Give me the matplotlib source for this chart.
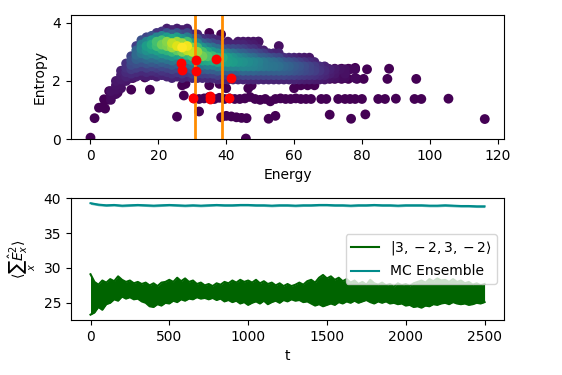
import matplotlib
matplotlib.use("Agg")
import matplotlib.pyplot as plt
import numpy as np

# --- данные ---

# плотная полоса: (энергия, [энтропии], [плотность 0..1])
band_columns = [
    (6.0, [1.35, 1.5, 1.65], [0.02, 0.03, 0.04]),
    (7.5, [1.55, 1.7, 1.85, 2.0], [0.03, 0.04, 0.05, 0.06]),
    (9.0, [1.75, 1.9, 2.05, 2.2, 2.35], [0.04, 0.05, 0.07, 0.08, 0.09]),
    (10.5, [2.0, 2.15, 2.3, 2.45, 2.6], [0.06, 0.09, 0.12, 0.14, 0.14]),
    (12.0, [2.1, 2.25, 2.4, 2.55, 2.7, 2.85], [0.07, 0.12, 0.17, 0.22, 0.24, 0.2]),
    (13.5, [2.15, 2.3, 2.45, 2.6, 2.75, 2.9, 3.05, 3.2],
     [0.08, 0.12, 0.18, 0.24, 0.3, 0.34, 0.32, 0.18]),
    (15.0, [2.2, 2.35, 2.5, 2.65, 2.8, 2.95, 3.1, 3.25, 3.4],
     [0.08, 0.12, 0.18, 0.25, 0.32, 0.4, 0.45, 0.42, 0.25]),
    (16.5, [2.15, 2.3, 2.45, 2.6, 2.75, 2.9, 3.05, 3.2, 3.35, 3.5],
     [0.08, 0.12, 0.18, 0.25, 0.33, 0.42, 0.5, 0.55, 0.45, 0.2]),
    (18.0, [2.2, 2.35, 2.5, 2.65, 2.8, 2.95, 3.1, 3.25, 3.4, 3.55],
     [0.08, 0.13, 0.2, 0.28, 0.36, 0.46, 0.56, 0.62, 0.52, 0.25]),
    (19.5, [2.15, 2.3, 2.45, 2.6, 2.75, 2.9, 3.05, 3.2, 3.35, 3.5, 3.65],
     [0.08, 0.12, 0.18, 0.26, 0.35, 0.45, 0.56, 0.68, 0.7, 0.45, 0.15]),
    (21.0, [2.2, 2.35, 2.5, 2.65, 2.8, 2.95, 3.1, 3.25, 3.4, 3.55, 3.7],
     [0.1, 0.15, 0.22, 0.3, 0.4, 0.52, 0.65, 0.78, 0.7, 0.45, 0.15]),
    (22.5, [2.15, 2.3, 2.45, 2.6, 2.75, 2.9, 3.05, 3.2, 3.35, 3.5, 3.65, 3.8],
     [0.1, 0.14, 0.2, 0.28, 0.38, 0.5, 0.64, 0.8, 0.82, 0.55, 0.25, 0.08]),
    (24.0, [2.1, 2.25, 2.4, 2.55, 2.7, 2.85, 3.0, 3.15, 3.3, 3.45, 3.6, 3.75],
     [0.1, 0.14, 0.2, 0.28, 0.38, 0.5, 0.66, 0.85, 0.9, 0.6, 0.3, 0.1]),
    (25.5, [2.15, 2.3, 2.45, 2.6, 2.75, 2.9, 3.05, 3.2, 3.35, 3.5, 3.65, 3.8],
     [0.1, 0.15, 0.22, 0.3, 0.42, 0.55, 0.75, 0.95, 0.85, 0.55, 0.25, 0.08]),
    (27.0, [2.1, 2.25, 2.4, 2.55, 2.7, 2.85, 3.0, 3.15, 3.3, 3.45, 3.6, 3.75],
     [0.1, 0.15, 0.22, 0.3, 0.42, 0.58, 0.8, 1.0, 0.85, 0.5, 0.22, 0.08]),
    (28.5, [2.15, 2.3, 2.45, 2.6, 2.75, 2.9, 3.05, 3.2, 3.35, 3.5, 3.65, 3.8],
     [0.1, 0.16, 0.24, 0.34, 0.48, 0.66, 0.9, 0.98, 0.7, 0.42, 0.2, 0.08]),
    (30.0, [2.1, 2.25, 2.4, 2.55, 2.7, 2.85, 3.0, 3.15, 3.3, 3.45, 3.6],
     [0.12, 0.18, 0.26, 0.36, 0.5, 0.7, 0.92, 0.8, 0.55, 0.3, 0.12]),
    (31.5, [2.1, 2.25, 2.4, 2.55, 2.7, 2.85, 3.0, 3.15, 3.3, 3.45, 3.6],
     [0.12, 0.18, 0.27, 0.38, 0.54, 0.74, 0.85, 0.68, 0.45, 0.25, 0.1]),
    (33.0, [2.1, 2.25, 2.4, 2.55, 2.7, 2.85, 3.0, 3.15, 3.3, 3.45],
     [0.12, 0.18, 0.28, 0.4, 0.58, 0.78, 0.7, 0.5, 0.3, 0.14]),
    (34.5, [2.1, 2.25, 2.4, 2.55, 2.7, 2.85, 3.0, 3.15, 3.3, 3.45],
     [0.12, 0.19, 0.3, 0.43, 0.6, 0.72, 0.6, 0.42, 0.25, 0.12]),
    (36.0, [2.1, 2.25, 2.4, 2.55, 2.7, 2.85, 3.0, 3.15, 3.3, 3.45],
     [0.12, 0.2, 0.3, 0.45, 0.62, 0.68, 0.52, 0.36, 0.2, 0.1]),
    (37.5, [2.05, 2.2, 2.35, 2.5, 2.65, 2.8, 2.95, 3.1, 3.25, 3.4],
     [0.1, 0.18, 0.28, 0.42, 0.58, 0.65, 0.52, 0.36, 0.2, 0.1]),
    (39.0, [2.05, 2.2, 2.35, 2.5, 2.65, 2.8, 2.95, 3.1, 3.25],
     [0.1, 0.18, 0.3, 0.44, 0.58, 0.62, 0.45, 0.26, 0.1]),
    (40.5, [2.05, 2.2, 2.35, 2.5, 2.65, 2.8, 2.95, 3.1, 3.25, 3.35],
     [0.1, 0.18, 0.3, 0.44, 0.56, 0.55, 0.4, 0.22, 0.1, 0.06]),
    (42.0, [2.05, 2.2, 2.35, 2.5, 2.65, 2.8, 2.95, 3.1, 3.25],
     [0.1, 0.18, 0.3, 0.45, 0.55, 0.5, 0.36, 0.22, 0.1]),
    (43.5, [2.05, 2.2, 2.35, 2.5, 2.65, 2.8, 2.95, 3.1, 3.25, 3.35],
     [0.1, 0.18, 0.3, 0.44, 0.52, 0.46, 0.32, 0.2, 0.1, 0.06]),
    (45.0, [2.05, 2.2, 2.35, 2.5, 2.65, 2.8, 2.95, 3.1, 3.25, 3.35],
     [0.1, 0.2, 0.33, 0.46, 0.5, 0.42, 0.3, 0.18, 0.1, 0.06]),
    (46.5, [2.05, 2.2, 2.35, 2.5, 2.65, 2.8, 2.95, 3.1, 3.25, 3.35],
     [0.1, 0.2, 0.32, 0.45, 0.48, 0.38, 0.26, 0.15, 0.08, 0.05]),
    (48.0, [2.05, 2.2, 2.35, 2.5, 2.65, 2.8, 2.95, 3.1, 3.25, 3.35],
     [0.1, 0.2, 0.32, 0.44, 0.46, 0.35, 0.24, 0.14, 0.07, 0.05]),
    (49.5, [2.05, 2.2, 2.35, 2.5, 2.65, 2.8, 2.95, 3.1, 3.35],
     [0.1, 0.2, 0.3, 0.42, 0.43, 0.3, 0.2, 0.1, 0.05]),
    (51.0, [2.05, 2.2, 2.35, 2.5, 2.65, 2.8, 2.95, 3.05],
     [0.1, 0.2, 0.3, 0.4, 0.4, 0.28, 0.17, 0.08]),
    (52.5, [2.05, 2.2, 2.35, 2.5, 2.65, 2.8, 2.95],
     [0.1, 0.2, 0.3, 0.39, 0.37, 0.25, 0.12]),
    (54.0, [2.05, 2.2, 2.35, 2.5, 2.65, 2.8, 2.95],
     [0.1, 0.2, 0.3, 0.38, 0.35, 0.22, 0.1]),
    (55.5, [2.05, 2.2, 2.35, 2.5, 2.65, 2.8, 2.95, 3.2],
     [0.1, 0.2, 0.3, 0.36, 0.32, 0.2, 0.1, 0.04]),
    (57.0, [2.05, 2.2, 2.35, 2.5, 2.65, 2.8], [0.1, 0.2, 0.29, 0.33, 0.27, 0.14]),
    (58.5, [2.05, 2.2, 2.35, 2.5, 2.65, 2.8], [0.1, 0.19, 0.28, 0.31, 0.25, 0.12]),
    (60.0, [2.05, 2.2, 2.35, 2.5, 2.65, 2.8], [0.1, 0.18, 0.26, 0.28, 0.22, 0.1]),
    (61.5, [2.05, 2.2, 2.35, 2.5, 2.65, 2.8], [0.09, 0.17, 0.24, 0.26, 0.18, 0.08]),
    (63.0, [2.05, 2.2, 2.35, 2.5, 2.65, 2.8], [0.08, 0.16, 0.22, 0.23, 0.15, 0.07]),
    (64.5, [2.05, 2.2, 2.35, 2.5, 2.65, 2.8], [0.08, 0.15, 0.2, 0.2, 0.12, 0.06]),
    (66.0, [2.05, 2.2, 2.35, 2.5, 2.65], [0.07, 0.14, 0.18, 0.17, 0.1]),
    (67.5, [2.05, 2.2, 2.35, 2.5], [0.07, 0.12, 0.15, 0.13]),
    (69.0, [2.05, 2.2, 2.35, 2.5], [0.06, 0.1, 0.12, 0.1]),
    (70.5, [2.1, 2.25, 2.4], [0.05, 0.08, 0.09]),
    (72.0, [2.1, 2.25, 2.4], [0.04, 0.06, 0.07]),
    (73.5, [2.1, 2.4], [0.03, 0.05]),
    (75.0, [2.1, 2.25, 2.4], [0.03, 0.04, 0.04]),
    (76.5, [2.4], [0.02]),
    (78.0, [2.1, 2.4], [0.02, 0.02]),
]

# отдельные точки вне полосы (самая низкая плотность)
outlier_energy = [0.0, 1.2, 2.5, 3.5, 4.3, 4.0, 5.0, 5.5, 7.0, 8.0,
                  12.0, 17.5, 12.5, 16.0, 27.0, 27.5, 28.0, 32.0, 25.5, 35.0,
                  38.0, 40.0, 46.5, 47.5, 60.0, 62.0, 64.0, 66.0,
                  30.5, 32.0, 33.5, 35.0, 36.5, 38.0, 39.5, 41.0, 42.5, 44.0,
                  45.5, 47.0, 48.5, 50.0, 51.5, 53.0, 54.5, 56.0, 57.5, 59.0,
                  60.5, 62.0, 63.5, 65.0, 68.0, 69.5, 73.0, 75.0, 76.5, 78.0,
                  80.0, 84.8, 86.8, 90.0, 95.5, 97.5, 105.5,
                  38.5, 40.0, 41.5, 43.0, 44.5, 46.0, 52.5, 54.5, 70.5, 76.8,
                  81.0, 116.2, 45.8,
                  70.5, 72.0, 74.0, 76.0, 78.5, 80.5, 87.5, 96.0,
                  70.0, 72.0, 74.0, 76.0, 78.0, 81.5, 88.0,
                  35.0, 38.5, 49.5, 48.0]
outlier_entropy = [0.05, 0.72, 1.08, 1.1, 1.05, 1.37, 1.35, 1.65, 1.55, 1.6,
                   1.7, 1.7, 2.1, 2.12, 1.85, 1.5, 1.9, 0.95, 0.77, 1.85,
                   1.9, 1.75, 1.75, 1.85, 1.75, 1.85, 1.85, 1.85,
                   1.4, 1.38, 1.4, 1.45, 1.38, 1.42, 1.38, 1.4, 1.38, 1.38,
                   1.4, 1.45, 1.38, 1.35, 1.38, 1.3, 1.38, 1.4, 1.38, 1.38,
                   1.4, 1.38, 1.38, 1.38, 1.38, 1.38, 1.38, 1.38, 1.38, 1.38,
                   1.38, 1.38, 1.38, 1.39, 1.38, 1.38, 1.39,
                   0.75, 0.8, 0.78, 0.75, 0.73, 0.72, 0.7, 0.8, 0.84, 0.7,
                   0.85, 0.69, 0.02,
                   2.07, 2.07, 2.07, 2.07, 2.07, 2.07, 2.07, 2.07,
                   2.42, 2.42, 2.42, 2.42, 2.45, 2.4, 2.42,
                   3.65, 3.6, 3.35, 3.3]

# выделенные состояния (красные)
red_energy = [26.6, 26.9, 31.1, 31.1, 37.0, 41.5, 30.2, 35.2, 35.2, 40.8]
red_entropy = [2.63, 2.36, 2.71, 2.33, 2.77, 2.09, 1.43, 1.48, 1.37, 1.40]

# вертикальные линии
vline_energy = [30.9, 38.8]

# временные ряды
t_green = list(range(0, 2501, 25))
green_upper = [29.1, 28.0, 27.6, 28.2, 27.9, 28.4, 28.1, 28.8, 28.3, 28.0,
               28.2, 27.8, 28.0, 27.7, 27.9, 27.5, 27.8, 27.4, 27.9, 28.0,
               28.3, 28.0, 28.6, 28.1, 28.5, 28.0, 28.2, 27.7, 27.9, 27.5,
               27.7, 27.4, 27.8, 27.6, 28.0, 27.8, 28.2, 27.9, 28.3, 28.0,
               28.2, 27.9, 28.3, 27.8, 28.1, 27.7, 27.9, 27.5, 27.8, 27.4,
               27.7, 27.4, 27.6, 27.9, 27.6, 28.1, 28.3, 27.9, 28.6, 29.0,
               28.5, 28.8, 28.3, 28.6, 28.1, 28.4, 27.9, 28.2, 27.7, 28.0,
               27.6, 28.3, 27.8, 27.6, 27.9, 27.5, 27.7, 27.3, 27.8, 27.5,
               27.7, 27.4, 27.8, 28.0, 28.2, 27.9, 28.4, 28.1, 28.5, 28.2,
               28.3, 28.0, 28.4, 28.0, 28.2, 27.8, 28.0, 27.6, 27.8, 27.5,
               27.7]
green_lower = [23.3, 23.6, 24.4, 24.0, 24.8, 25.0, 25.5, 25.3, 25.9, 25.6,
               25.8, 25.5, 25.6, 25.2, 25.0, 24.5, 24.4, 24.8, 24.6, 25.0,
               24.9, 25.3, 25.1, 25.5, 25.3, 25.6, 25.5, 25.8, 25.6, 25.7,
               25.5, 25.7, 25.4, 25.6, 25.2, 25.4, 25.1, 25.3, 24.9, 25.1,
               24.7, 25.0, 25.2, 24.9, 25.3, 24.8, 25.1, 25.3, 25.0, 25.4,
               25.2, 25.5, 25.3, 25.4, 25.1, 25.2, 24.9, 24.6, 24.8, 24.5,
               24.7, 24.9, 24.7, 25.1, 24.9, 25.2, 25.0, 25.3, 25.0, 25.2,
               25.4, 25.1, 24.9, 25.2, 25.0, 25.2, 24.9, 25.0, 24.8, 24.9,
               24.6, 24.7, 24.4, 24.5, 24.3, 24.6, 24.5, 24.8, 24.7, 24.9,
               25.0, 24.8, 25.1, 24.9, 24.8, 24.9, 24.7, 24.8, 25.0, 24.9,
               25.1]
t_mc = list(range(0, 2501, 50))
mc_vals = [39.3, 39.1, 39.0, 39.05, 38.95, 39.0, 39.05, 39.0, 38.95, 39.0,
           39.05, 39.0, 38.95, 39.0, 38.95, 39.0, 39.05, 39.0, 39.0, 39.05,
           39.05, 39.0, 39.0, 38.95, 39.0, 39.0, 38.95, 39.0, 39.0, 39.05,
           39.05, 39.0, 39.0, 38.95, 39.0, 39.0, 39.05, 39.0, 39.0, 38.95,
           39.0, 39.0, 39.0, 38.95, 38.95, 39.0, 38.95, 38.9, 38.9, 38.85,
           38.85]
mc_spread = 0.17  # полуширина шумовой полосы MC

# --- сборка точек ---
xs, ys, cs = [], [], []
for e, s_list, c_list in band_columns:
    for s, c in zip(s_list, c_list):
        xs.append(e)
        ys.append(s)
        cs.append(c)
xs += outlier_energy
ys += outlier_entropy
cs += [0.0] * len(outlier_energy)

xs, ys, cs = np.array(xs), np.array(ys), np.array(cs)
order = np.argsort(cs)  # плотные точки поверх
xs, ys, cs = xs[order], ys[order], cs[order]

fig = plt.figure(figsize=(5.62, 3.75), dpi=100)
ax1 = fig.add_axes([0.126, 0.629, 0.771, 0.332])
ax2 = fig.add_axes([0.126, 0.147, 0.771, 0.325])

ax1.scatter(xs, ys, c=cs, cmap="viridis", vmin=0, vmax=1, s=50, linewidths=0)
for v in vline_energy:
    ax1.axvline(v, color="darkorange", linewidth=2)
ax1.scatter(red_energy, red_entropy, color="red", s=50, linewidths=0, zorder=3)
ax1.set_xlim(-5.8, 121.9)
ax1.set_ylim(0, 4.28)
ax1.set_xlabel("Energy")
ax1.set_ylabel("Entropy")

ax2.fill_between(t_green, green_lower, green_upper, color="darkgreen", linewidth=0)
ax2.plot(t_green, green_upper, color="darkgreen", linewidth=1.5,
         label=r"$|3,-2,3,-2\rangle$")
ax2.plot(t_green, green_lower, color="darkgreen", linewidth=1.5)
mc_arr = np.array(mc_vals)
ax2.fill_between(t_mc, mc_arr - mc_spread, mc_arr + mc_spread,
                 color="darkcyan", alpha=0.6, linewidth=0)
ax2.plot(t_mc, mc_vals, color="darkcyan", linewidth=1.5, label="MC Ensemble")
ax2.set_xlim(-125, 2624)
ax2.set_ylim(22.55, 40.05)
ax2.set_xlabel("t")
ax2.set_ylabel(r"$\langle \sum_x \hat{E}_x^2 \rangle$")
ax2.legend(loc="center right")

fig.savefig("out.png", dpi=100)
